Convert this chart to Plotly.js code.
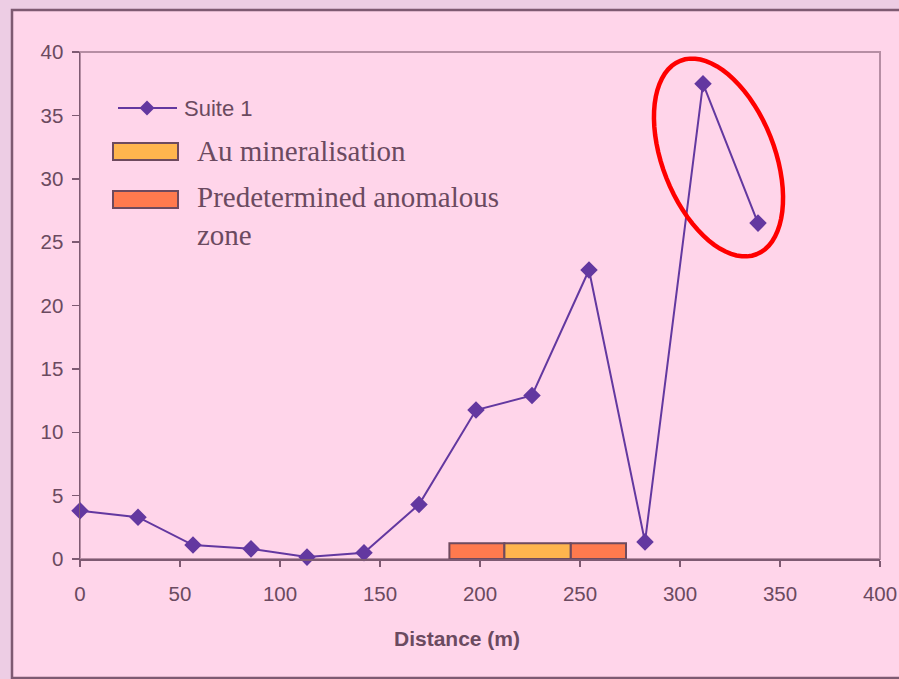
<!DOCTYPE html>
<html>
<head>
<meta charset="utf-8">
<script src="https://cdn.plot.ly/plotly-3.0.1.min.js"></script>
<style>html,body{margin:0;padding:0;background:#EDCDE4;}#chart{width:899px;height:679px;}</style>
</head>
<body>
<div id="chart"></div>
<script>
// ---- data ----
const distance = [0, 29, 56.5, 85.5, 113.5, 142, 169.5, 198, 226, 254.5, 282.5, 311.5, 339];
const suite1 = [3.8, 3.3, 1.1, 0.8, 0.15, 0.5, 4.3, 11.75, 12.9, 22.8, 1.35, 37.5, 26.5];
const zoneStart = [184.7, 245.3];
const zoneEnd = [212.2, 273];
const zoneHeight = [1.25, 1.25];
const auStart = [212.2];
const auEnd = [245.3];
const auHeight = [1.25];
const xTicks = [0, 50, 100, 150, 200, 250, 300, 350, 400];
const yTicks = [0, 5, 10, 15, 20, 25, 30, 35, 40];

const txt = '#6B4A60';
const purple = '#6338A0';
const zoneColor = '#FF7A4E';
const auColor = '#FFB54E';
const barLine = '#6E4A5E';

const W = 899, H = 679, L = 80, R = 19, T = 52, B = 120;
const pw = W - L - R, ph = H - T - B;
const px2x = p => (p - L) / pw;
const py2y = p => (H - B - p) / ph;

const traces = [
  {
    type: 'bar', name: 'Predetermined anomalous zone',
    x: zoneStart.map((s, i) => (s + zoneEnd[i]) / 2),
    width: zoneStart.map((s, i) => zoneEnd[i] - s),
    y: zoneHeight, base: 0,
    marker: {color: zoneColor, line: {color: barLine, width: 2}},
    showlegend: false, hoverinfo: 'skip'
  },
  {
    type: 'bar', name: 'Au mineralisation',
    x: auStart.map((s, i) => (s + auEnd[i]) / 2),
    width: auStart.map((s, i) => auEnd[i] - s),
    y: auHeight, base: 0,
    marker: {color: auColor, line: {color: barLine, width: 2}},
    showlegend: false, hoverinfo: 'skip'
  },
  {
    type: 'scatter', mode: 'lines+markers', name: 'Suite 1',
    x: distance, y: suite1,
    line: {color: purple, width: 2},
    marker: {symbol: 'diamond', size: 13.5, color: purple},
    showlegend: false, cliponaxis: false
  }
];

// red highlight ellipse (pixel geometry -> paper coords)
function ellipsePath(cx, cy, a, b, deg) {
  const th = deg * Math.PI / 180;
  let d = '';
  for (let i = 0; i <= 72; i++) {
    const t = i / 72 * 2 * Math.PI;
    const x = cx + a * Math.cos(t) * Math.cos(th) - b * Math.sin(t) * Math.sin(th);
    const y = cy + a * Math.cos(t) * Math.sin(th) + b * Math.sin(t) * Math.cos(th);
    d += (i === 0 ? 'M' : 'L') + px2x(x).toFixed(5) + ',' + py2y(y).toFixed(5);
  }
  return d + 'Z';
}
function diamondPath(cx, cy, r) {
  return 'M' + px2x(cx - r) + ',' + py2y(cy) + 'L' + px2x(cx) + ',' + py2y(cy - r) +
         'L' + px2x(cx + r) + ',' + py2y(cy) + 'L' + px2x(cx) + ',' + py2y(cy + r) + 'Z';
}

const shapes = [
  // outer frame
  {type: 'rect', xref: 'paper', yref: 'paper', layer: 'below',
   x0: px2x(12), x1: px2x(910), y0: py2y(10), y1: py2y(678),
   fillcolor: '#FFD5EA', line: {color: '#7E5A72', width: 2.5}},
  // plot area border
  {type: 'rect', xref: 'paper', yref: 'paper', layer: 'below',
   x0: 0, x1: 1, y0: 0, y1: 1, line: {color: '#B68EA4', width: 2}},
  // legend: Suite 1
  {type: 'line', xref: 'paper', yref: 'paper',
   x0: px2x(118), x1: px2x(177), y0: py2y(108), y1: py2y(108),
   line: {color: purple, width: 2}},
  {type: 'path', xref: 'paper', yref: 'paper', path: diamondPath(147, 108, 7.5),
   fillcolor: purple, line: {color: purple, width: 0}},
  // legend: Au mineralisation
  {type: 'rect', xref: 'paper', yref: 'paper',
   x0: px2x(113), x1: px2x(178), y0: py2y(143), y1: py2y(160),
   fillcolor: auColor, line: {color: barLine, width: 2}},
  // legend: anomalous zone
  {type: 'rect', xref: 'paper', yref: 'paper',
   x0: px2x(113), x1: px2x(178), y0: py2y(191), y1: py2y(208),
   fillcolor: zoneColor, line: {color: barLine, width: 2}},
  // red ellipse
  {type: 'path', xref: 'paper', yref: 'paper', path: ellipsePath(718.5, 157.5, 104, 56, 68.5),
   line: {color: '#FF0000', width: 4.5}}
];

const annotations = [
  {xref: 'paper', yref: 'paper', x: px2x(182), y: py2y(108), xanchor: 'left', yanchor: 'middle',
   text: 'Suite 1', showarrow: false, font: {family: 'Liberation Sans, Arial, sans-serif', size: 22, color: txt}},
  {xref: 'paper', yref: 'paper', x: px2x(195), y: py2y(151), xanchor: 'left', yanchor: 'middle',
   text: 'Au mineralisation', showarrow: false, font: {family: 'Liberation Serif, Times New Roman, serif', size: 29, color: txt}},
  {xref: 'paper', yref: 'paper', x: px2x(195), y: py2y(179), xanchor: 'left', yanchor: 'top', align: 'left',
   text: 'Predetermined anomalous<br>zone', showarrow: false, font: {family: 'Liberation Serif, Times New Roman, serif', size: 29, color: txt}},
  {xref: 'paper', yref: 'paper', x: px2x(457), y: py2y(638), xanchor: 'center', yanchor: 'middle',
   text: '<b>Distance (m)</b>', showarrow: false, font: {family: 'Liberation Sans, Arial, sans-serif', size: 21, color: txt}}
];

const layout = {
  width: W, height: H,
  margin: {l: L, r: R, t: T, b: B, pad: 0},
  paper_bgcolor: '#EDCDE4', plot_bgcolor: 'rgba(0,0,0,0)',
  showlegend: false, barmode: 'overlay',
  font: {family: 'Liberation Sans, Arial, sans-serif', size: 20, color: txt},
  xaxis: {
    range: [0, 400], tickvals: xTicks, ticktext: xTicks.map(String),
    showgrid: false, zeroline: false, showline: true, linecolor: '#7E5A72', linewidth: 1.5,
    ticks: 'outside', ticklen: 6, tickcolor: '#7E5A72', tickwidth: 1.5,
    ticklabelstandoff: 10, tickfont: {size: 20.5, color: txt}
  },
  yaxis: {
    range: [0, 40], tickvals: yTicks, ticktext: yTicks.map(String),
    showgrid: false, zeroline: false, showline: true, linecolor: '#7E5A72', linewidth: 1.5,
    ticks: 'outside', ticklen: 7, tickcolor: '#7E5A72', tickwidth: 1.5,
    ticklabelstandoff: 4, tickfont: {size: 20.5, color: txt}
  },
  shapes: shapes,
  annotations: annotations
};

Plotly.newPlot('chart', traces, layout, {displayModeBar: false, staticPlot: true});
</script>
</body>
</html>
